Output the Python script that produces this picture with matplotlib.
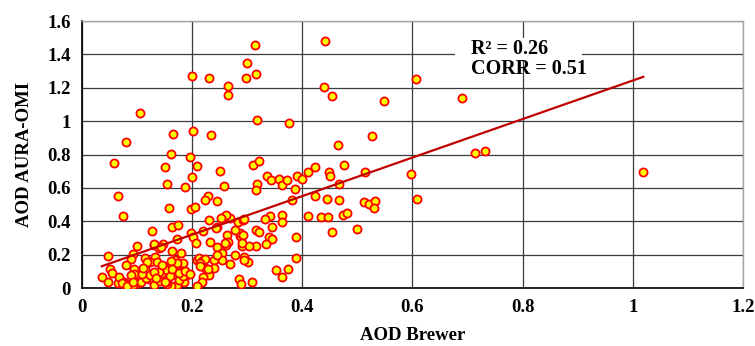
import matplotlib
matplotlib.use("Agg")
import matplotlib.pyplot as plt
from matplotlib.patches import Rectangle

# AOD Brewer (x) vs AOD AURA-OMI (y)
aod_brewer = [
    0.314, 0.441, 0.299, 0.200, 0.231, 0.298, 0.315, 0.265, 0.265, 0.439,
    0.454, 0.548, 0.606, 0.689, 0.105, 0.318, 0.375, 0.080, 0.165, 0.201,
    0.234, 0.527, 0.464, 0.714, 0.731, 0.059, 0.161, 0.196, 0.208, 0.151,
    0.311, 0.322, 0.423, 0.476, 0.411, 0.448, 0.450, 0.514, 0.598, 1.019,
    0.251, 0.200, 0.335, 0.343, 0.358, 0.363, 0.373, 0.390, 0.399, 0.387,
    0.318, 0.316, 0.155, 0.257, 0.187, 0.466, 0.065, 0.229, 0.223, 0.245,
    0.381, 0.423, 0.445, 0.466, 0.512, 0.521, 0.532, 0.530, 0.609, 0.158,
    0.198, 0.205, 0.074, 0.411, 0.433, 0.447, 0.474, 0.482, 0.454, 0.500,
    # middle cluster
    0.364, 0.364, 0.341, 0.333, 0.345, 0.339, 0.345, 0.334, 0.388, 0.388,
    0.315, 0.322, 0.316, 0.352, 0.374, 0.363, 0.308, 0.285, 0.289, 0.294,
    0.301, 0.294, 0.277, 0.269, 0.290, 0.286, 0.287, 0.277, 0.284, 0.292,
    0.295, 0.268, 0.257, 0.261, 0.252, 0.246, 0.264, 0.265, 0.261, 0.246,
    0.233, 0.231, 0.219, 0.198, 0.202, 0.207, 0.254, 0.254, 0.239, 0.239,
    0.224, 0.231, 0.219, 0.218, 0.208, 0.208, 0.213, 0.217, 0.223, 0.244,
    0.293, 0.259, 0.304, 0.214, 0.228, 0.245, 0.290,
    # low-left cluster
    0.184, 0.186, 0.172, 0.188, 0.181, 0.179, 0.164, 0.172, 0.164, 0.174,
    0.128, 0.130, 0.147, 0.140, 0.100, 0.093, 0.089, 0.047, 0.050, 0.036,
    0.047, 0.066, 0.080, 0.077, 0.079, 0.095, 0.095, 0.094, 0.101, 0.092,
    0.114, 0.115, 0.121, 0.128, 0.131, 0.132, 0.124, 0.147, 0.147, 0.155,
    0.162, 0.154, 0.165, 0.168, 0.173, 0.167, 0.176, 0.154, 0.140, 0.141,
    0.118, 0.074, 0.089, 0.107, 0.116, 0.136, 0.153, 0.159, 0.184, 0.183,
    0.215, 0.054, 0.068, 0.072, 0.081, 0.093, 0.109, 0.111, 0.123, 0.130,
    0.134, 0.145, 0.151, 0.131, 0.143, 0.162, 0.164, 0.176, 0.187, 0.196,
]
aod_omi = [
    1.456, 1.478, 1.346, 1.270, 1.258, 1.256, 1.280, 1.213, 1.159, 1.205,
    1.153, 1.120, 1.252, 1.138, 1.047, 1.009, 0.991, 0.877, 0.923, 0.941,
    0.919, 0.911, 0.855, 0.807, 0.819, 0.749, 0.801, 0.783, 0.733, 0.727,
    0.737, 0.763, 0.727, 0.737, 0.697, 0.695, 0.671, 0.695, 0.685, 0.697,
    0.703, 0.667, 0.671, 0.645, 0.655, 0.615, 0.645, 0.669, 0.653, 0.593,
    0.623, 0.587, 0.623, 0.613, 0.605, 0.621, 0.551, 0.551, 0.527, 0.519,
    0.525, 0.553, 0.531, 0.527, 0.517, 0.503, 0.523, 0.481, 0.533, 0.481,
    0.473, 0.487, 0.433, 0.431, 0.427, 0.427, 0.435, 0.447, 0.334, 0.352,
    # middle cluster
    0.439, 0.394, 0.433, 0.416, 0.368, 0.308, 0.296, 0.262, 0.304, 0.182,
    0.350, 0.338, 0.254, 0.108, 0.112, 0.068, 0.038, 0.052, 0.024, 0.188,
    0.156, 0.166, 0.198, 0.146, 0.254, 0.310, 0.328, 0.348, 0.398, 0.408,
    0.414, 0.417, 0.427, 0.435, 0.419, 0.368, 0.316, 0.274, 0.258, 0.248,
    0.278, 0.408, 0.342, 0.328, 0.304, 0.268, 0.208, 0.168, 0.166, 0.118,
    0.118, 0.078, 0.068, 0.038, 0.012, 0.168, 0.178, 0.162, 0.174, 0.361,
    0.318, 0.267, 0.250, 0.150, 0.114, 0.196, 0.268,
    # low-left cluster
    0.148, 0.038, 0.018, 0.076, 0.104, 0.208, 0.222, 0.292, 0.368, 0.376,
    0.344, 0.256, 0.264, 0.238, 0.254, 0.202, 0.176, 0.192, 0.112, 0.066,
    0.034, 0.032, 0.138, 0.034, 0.008, 0.116, 0.084, 0.042, 0.032, 0.018,
    0.182, 0.112, 0.056, 0.060, 0.016, 0.188, 0.156, 0.132, 0.084, 0.056,
    0.012, 0.024, 0.118, 0.168, 0.152, 0.084, 0.048, 0.108, 0.096, 0.042,
    0.154, 0.038, 0.078, 0.038, 0.060, 0.158, 0.038, 0.072, 0.098, 0.070,
    0.132, 0.088, 0.067, 0.028, 0.014, 0.038, 0.082, 0.118, 0.078, 0.098,
    0.058, 0.138, 0.038, 0.262, 0.246, 0.162, 0.113, 0.088, 0.100, 0.082,
]

# linear trend line shown on the chart
trend_slope = 1.155
trend_intercept = 0.089

x_ticks = [0, 0.2, 0.4, 0.6, 0.8, 1.0, 1.2]
x_tick_labels = ["0", "0.2", "0.4", "0.6", "0.8", "1", "1.2"]
y_ticks = [0, 0.2, 0.4, 0.6, 0.8, 1.0, 1.2, 1.4, 1.6]
y_tick_labels = ["0", "0.2", "0.4", "0.6", "0.8", "1", "1.2", "1.4", "1.6"]

plt.rcParams["font.family"] = ["Liberation Serif", "DejaVu Serif"]
plt.rcParams["font.weight"] = "bold"

fig = plt.figure(figsize=(7.55, 3.46), dpi=100)
ax = fig.add_axes([0.1086, 0.1676, 0.8755, 0.7714])

ax.set_xlim(0, 1.2)
ax.set_ylim(0, 1.6)
ax.set_xticks(x_ticks)
ax.set_xticklabels(x_tick_labels)
ax.set_yticks(y_ticks)
ax.set_yticklabels(y_tick_labels)
ax.tick_params(length=0, labelsize=13.5, pad=8)
for lab in ax.get_xticklabels() + ax.get_yticklabels():
    lab.set_fontweight("bold")

ax.grid(True, color="#3a3a3a", linewidth=0.9, zorder=0)
ax.set_axisbelow(True)
for side in ("top", "right"):
    ax.spines[side].set_color("#a6a6a6")
    ax.spines[side].set_linewidth(1.0)
for side in ("left", "bottom"):
    ax.spines[side].set_color("black")
    ax.spines[side].set_linewidth(1.2)

ax.scatter(aod_brewer, aod_omi, s=34, facecolor="#ffff00", edgecolor="#ff0000",
           linewidth=1.3, zorder=3)

x0, x1 = min(aod_brewer), max(aod_brewer)
ax.plot([x0, x1], [trend_intercept + trend_slope * x0, trend_intercept + trend_slope * x1],
        color="#c00000", lw=1.6, zorder=4)

# white label box interrupting the 1.4 gridline
ax.add_patch(Rectangle((0.677, 1.36), 0.23, 0.14, facecolor="white",
                       edgecolor="none", zorder=4))
ax.text(0.706, 1.495, "R\u00b2 = 0.26\nCORR = 0.51", fontsize=14.5, fontweight="bold",
        ha="left", va="top", linespacing=1.05, zorder=5)

ax.set_xlabel("AOD Brewer", fontsize=13.5, fontweight="bold", labelpad=8)
ax.set_ylabel("AOD AURA-OMI", fontsize=13.5, fontweight="bold", labelpad=10)

fig.savefig("out.png", dpi=100)
